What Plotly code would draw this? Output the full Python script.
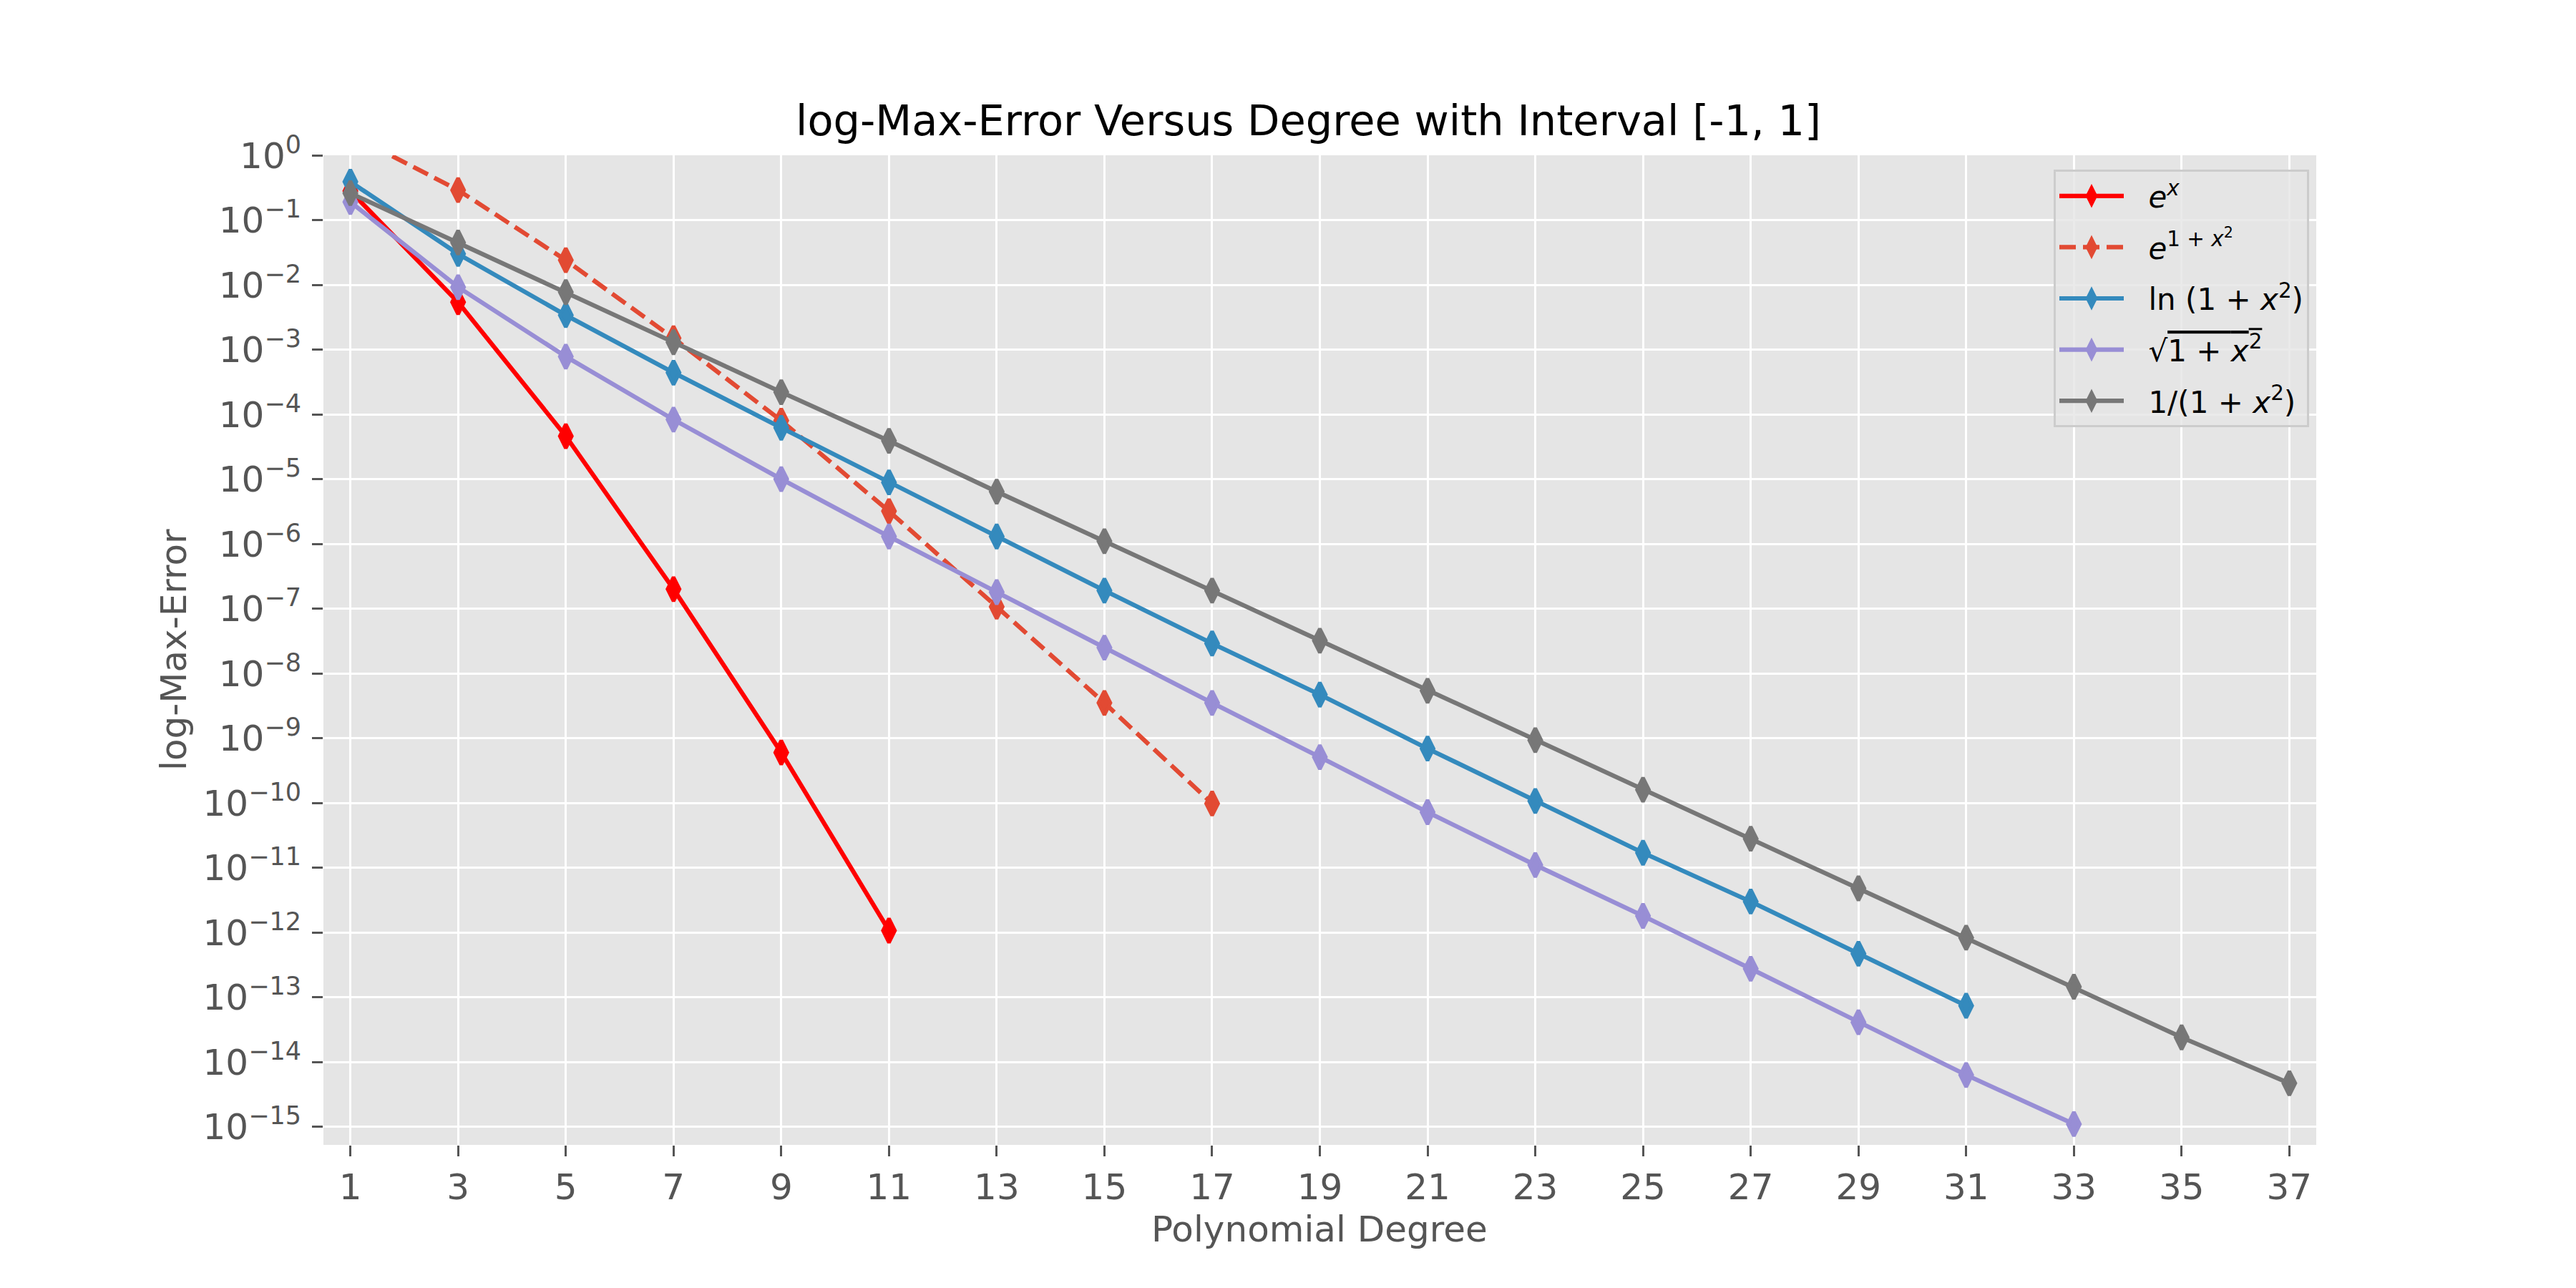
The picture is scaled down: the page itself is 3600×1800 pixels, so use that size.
import plotly.graph_objects as go

# ---------------- data ----------------
deg_exp = [1, 3, 5, 7, 9, 11]
err_exp = [0.28, 5.4e-3, 4.6e-5, 2.0e-7, 6.0e-10, 1.07e-12]

deg_exp2 = [1, 3, 5, 7, 9, 11, 13, 15, 17]
err_exp2 = [2.1, 0.29, 0.024, 1.5e-3, 8.0e-5, 3.2e-6, 1.07e-7, 3.5e-9, 9.8e-11]

deg_ln = [1, 3, 5, 7, 9, 11, 13, 15, 17, 19, 21, 23, 25, 27, 29, 31]
err_ln = [0.39, 0.030, 3.4e-3, 4.4e-4, 6.2e-5, 8.9e-6, 1.3e-6, 1.9e-7, 2.9e-8,
          4.7e-9, 6.9e-10, 1.07e-10, 1.7e-11, 3.0e-12, 4.7e-13, 7.4e-14]

deg_sqrt = [1, 3, 5, 7, 9, 11, 13, 15, 17, 19, 21, 23, 25, 27, 29, 31, 33]
err_sqrt = [0.19, 9.2e-3, 7.8e-4, 8.3e-5, 1.0e-5, 1.3e-6, 1.8e-7, 2.5e-8, 3.5e-9,
            5.1e-10, 7.2e-11, 1.1e-11, 1.8e-12, 2.75e-13, 4.1e-14, 6.3e-15, 1.1e-15]

deg_rat = [1, 3, 5, 7, 9, 11, 13, 15, 17, 19, 21, 23, 25, 27, 29, 31, 33, 35, 37]
err_rat = [0.26, 0.045, 7.7e-3, 1.3e-3, 2.2e-4, 3.9e-5, 6.4e-6, 1.1e-6, 1.9e-7,
           3.2e-8, 5.4e-9, 9.3e-10, 1.6e-10, 2.8e-11, 4.8e-12, 8.3e-13, 1.45e-13,
           2.4e-14, 4.7e-15]

series_names = [
    "<i>e</i><sup><i>x</i></sup>",
    "<i>e</i><sup>1 + <i>x</i><sup>2</sup></sup>",
    "ln (1 + <i>x</i><sup>2</sup>)",
    "\u221a<span style=\"text-decoration:overline\">1 + <i>x</i><sup>2</sup></span>",
    "1/(1 + <i>x</i><sup>2</sup>)",
]
series_colors = ["#FF0000", "#E24A33", "#348ABD", "#988ED5", "#777777"]
series_dash = ["solid", "23px,10px", "solid", "solid", "solid"]

x_ticks = list(range(1, 38, 2))
y_tick_vals = [10.0 ** (-k) for k in range(0, 16)]
y_tick_text = ["10<sup>%s</sup>" % ("0" if k == 0 else "\u2212%d" % k) for k in range(0, 16)]

title_text = "log-Max-Error Versus Degree with Interval [-1, 1]"
x_label = "Polynomial Degree"
y_label = "log-Max-Error"

# ---------------- layout geometry (pixels) ----------------
W, H = 3600, 1800
L, R, T, B = 452, 3237, 217, 1600
PW, PH = R - L, B - T


def px_x(px):
    return (px - L) / PW


def px_y(py):
    return (B - py) / PH


FONT = "DejaVu Sans"
LEG_PAD = "\u2002\u2009"

fig = go.Figure()
all_x = [deg_exp, deg_exp2, deg_ln, deg_sqrt, deg_rat]
all_y = [err_exp, err_exp2, err_ln, err_sqrt, err_rat]
for i, (xs, ys) in enumerate(zip(all_x, all_y)):
    fig.add_trace(go.Scatter(
        x=xs, y=ys, mode="lines+markers", name=LEG_PAD + series_names[i],
        legendgroup="g%d" % i,
        line=dict(color=series_colors[i], width=6.2, dash=series_dash[i]),
        marker=dict(symbol="diamond-tall", size=24, color=series_colors[i],
                    line=dict(width=5, color=series_colors[i])),
        cliponaxis=True,
    ))

fig.update_layout(
    width=W, height=H, autosize=False,
    margin=dict(l=L, r=W - R, t=T, b=H - B, pad=0),
    paper_bgcolor="white", plot_bgcolor="#E5E5E5",
    font=dict(family=FONT, color="#555555", size=50),
    showlegend=True,
    legend=dict(
        x=px_x(2870), y=px_y(237), xanchor="left", yanchor="top",
        bgcolor="rgba(229,229,229,0.8)", bordercolor="#CCCCCC", borderwidth=3,
        font=dict(family=FONT, size=42, color="black"),
        tracegroupgap=14, traceorder="grouped",
        itemsizing="trace", itemwidth=90,
    ),
)

fig.update_xaxes(
    range=[0.5, 37.5], tickmode="array", tickvals=x_ticks,
    ticks="outside", ticklen=15, tickwidth=3.3, tickcolor="#555555",
    tickfont=dict(family=FONT, size=50, color="#555555"),
    ticklabelstandoff=0,
    showgrid=True, gridcolor="white", gridwidth=3.3,
    zeroline=False, showline=False,
)
fig.update_yaxes(
    type="log", range=[-15.28, 0.0], tickmode="array",
    tickvals=y_tick_vals, ticktext=y_tick_text,
    ticks="outside", ticklen=15, tickwidth=3.3, tickcolor="#555555",
    tickfont=dict(family=FONT, size=50, color="#555555"),
    ticklabelstandoff=5,
    showgrid=True, gridcolor="white", gridwidth=3.3,
    zeroline=False, showline=False,
)

fig.add_annotation(
    text=title_text, xref="paper", yref="paper",
    x=px_x(1828), y=px_y(168), xanchor="center", yanchor="middle",
    showarrow=False, font=dict(family=FONT, size=59, color="black"),
)
fig.add_annotation(
    text=x_label, xref="paper", yref="paper",
    x=px_x(1844), y=px_y(1718), xanchor="center", yanchor="middle",
    showarrow=False, font=dict(family=FONT, size=50, color="#555555"),
)
fig.add_annotation(
    text=y_label, xref="paper", yref="paper",
    x=px_x(243), y=px_y(908), xanchor="center", yanchor="middle",
    textangle=-90,
    showarrow=False, font=dict(family=FONT, size=50, color="#555555"),
)

fig.write_html("out.html", config={"displayModeBar": False},
               post_script="document.body.style.margin='0';")
